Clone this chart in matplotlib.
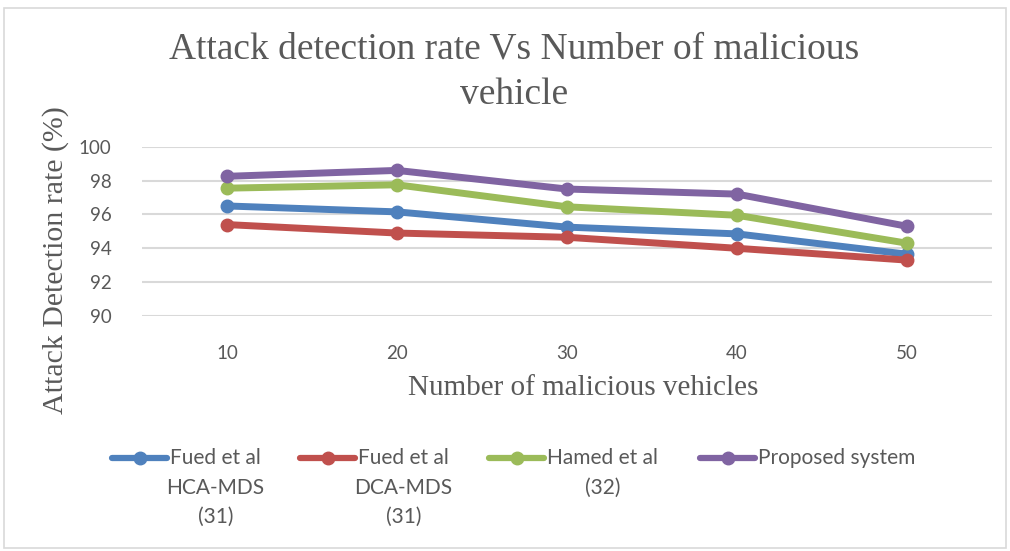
import numpy as np
import matplotlib
matplotlib.use("Agg")
import matplotlib.pyplot as plt
from matplotlib.lines import Line2D
from matplotlib.patches import Rectangle

# data
vehicles = [10, 20, 30, 40, 50]
hca_mds = [96.5, 96.15, 95.25, 94.85, 93.65]
dca_mds = [95.4, 94.9, 94.65, 94.0, 93.3]
hamed = [97.55, 97.75, 96.45, 95.95, 94.3]
proposed = [98.25, 98.6, 97.5, 97.2, 95.3]

names = ["Fued et al\nHCA-MDS\n(31)", "Fued et al\nDCA-MDS\n(31)",
         "Hamed et al\n(32)", "Proposed system"]
colors = ["#4F81BD", "#C0504D", "#9BBB59", "#8064A2"]
series = [hca_mds, dca_mds, hamed, proposed]

grey = "#595959"
serif = "Liberation Serif"
sans = ["Lato", "DejaVu Sans"]

fig = plt.figure(figsize=(10.10, 5.51), dpi=100)
fig.patches.append(Rectangle((4 / 1010, 3 / 551), 1002 / 1010, 540 / 551,
                             transform=fig.transFigure, fill=False,
                             edgecolor="#D9D9D9", lw=1.2))

ax = fig.add_axes([142 / 1010, 1 - 316 / 551, 850 / 1010, 169.3 / 551])
ind = np.arange(len(vehicles))
for vals, c in zip(series, colors):
    ax.plot(ind, vals, color=c, lw=5, marker="o", ms=9,
            solid_capstyle="round")

ax.set_xlim(-0.5, len(vehicles) - 0.5)
ax.set_ylim(90, 100)
ax.set_yticks(np.arange(90, 101, 2))
ax.set_xticks(ind)
ax.set_xticklabels([str(v) for v in vehicles])
ax.grid(axis="y", color="#D9D9D9", lw=1.5)
ax.set_axisbelow(True)
for s in ax.spines.values():
    s.set_visible(False)
ax.tick_params(length=0, labelsize=13.5, labelcolor=grey)
ax.tick_params(axis="y", pad=22)
ax.tick_params(axis="x", pad=21)
for t in ax.get_xticklabels() + ax.get_yticklabels():
    t.set_family(sans)

fig.text(514 / 1010, 1 - 72 / 551,
         "Attack detection rate Vs Number of malicious\nvehicle",
         ha="center", va="center", fontsize=27, family=serif, color=grey,
         linespacing=1.42)
fig.text(583 / 1010, 1 - 388 / 551, "Number of malicious vehicles",
         ha="center", va="center", fontsize=21, family=serif, color=grey)
fig.text(56 / 1010, 1 - 260 / 551, "Attack Detection rate (%)",
         ha="center", va="center", rotation=90, fontsize=21.5, family=serif,
         color=grey)

# legend: handle + first line, extra lines centred under it
leg_x = [112, 300, 489, 700]
leg_y = 1 - 458 / 551
for x0, name, c in zip(leg_x, names, colors):
    lines = name.split("\n")
    fig.add_artist(Line2D([x0 / 1010, (x0 + 55) / 1010], [leg_y, leg_y],
                          transform=fig.transFigure, color=c, lw=4.5,
                          solid_capstyle="round"))
    fig.add_artist(Line2D([(x0 + 27.5) / 1010], [leg_y],
                          transform=fig.transFigure, color=c, marker="o",
                          ms=9))
    t = fig.text((x0 + 58) / 1010, leg_y, lines[0], ha="left", va="center",
                 fontsize=15, family=sans, color=grey)
    fig.canvas.draw()
    bb = t.get_window_extent()
    cx = (bb.x0 + bb.x1) / 2 / 1010
    for k, extra in enumerate(lines[1:]):
        fig.text(cx, leg_y - (k + 1) * 29.5 / 551, extra, ha="center",
                 va="center", fontsize=15, family=sans, color=grey)

fig.savefig("out.png", dpi=100)
